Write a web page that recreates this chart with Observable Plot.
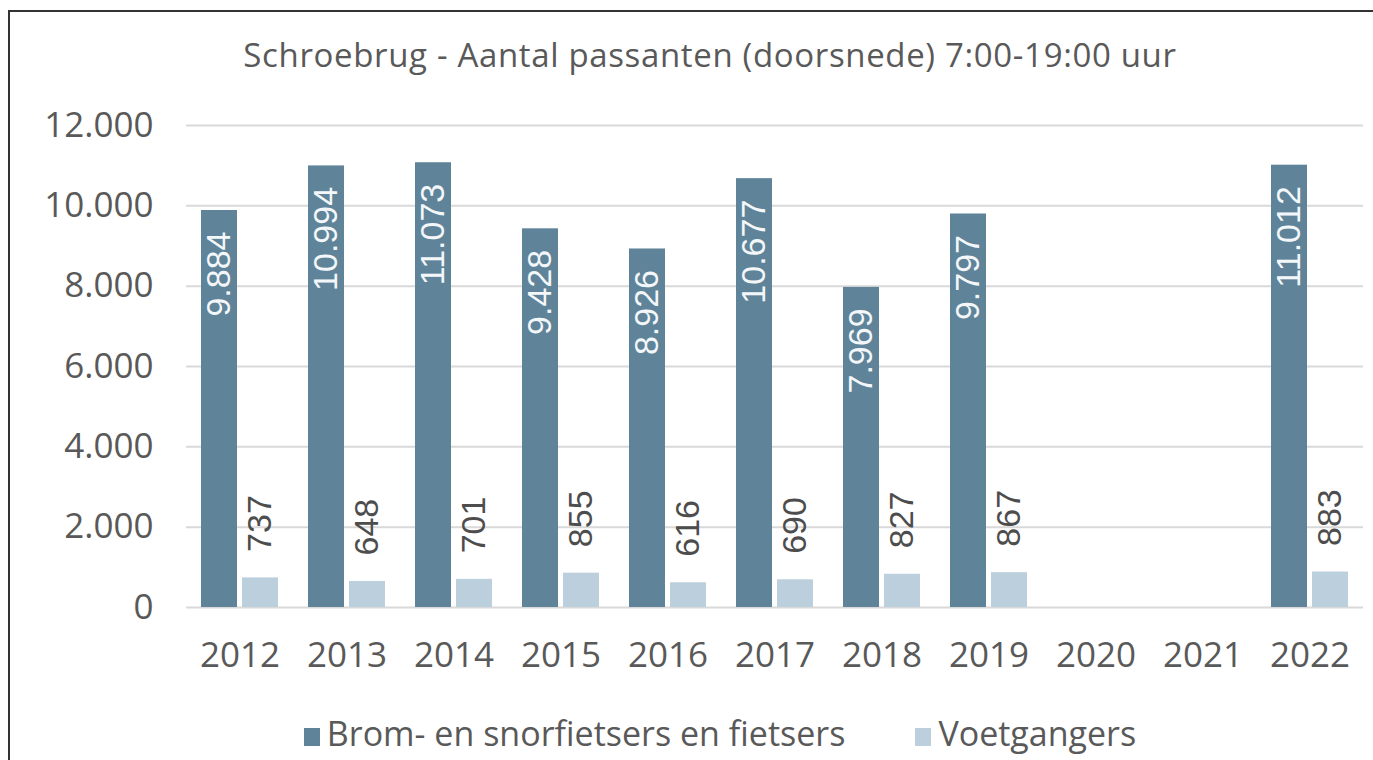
<!DOCTYPE html>
<html>
<head>
<meta charset="utf-8">
<script src="https://cdn.jsdelivr.net/npm/d3@7"></script>
<script src="https://cdn.jsdelivr.net/npm/@observablehq/plot@0.6"></script>
<style>
  html, body { margin: 0; padding: 0; background: #fff; }
  #wrap { position: relative; width: 1373px; height: 760px; overflow: hidden; background: #fff; font-family: 'Open Sans', sans-serif; color: #595959; }
  #frame { position: absolute; left: 8px; top: 10px; width: 1400px; height: 800px; border-left: 2px solid #333; border-top: 2px solid #333; box-sizing: border-box; }
  #title { position: absolute; left: 40px; width: 1340px; top: 38px; line-height: 34px; font-size: 33px; letter-spacing: 0.65px; text-align: center; white-space: nowrap; }
  #chart { position: absolute; left: 0; top: 80px; }
  #legend { position: absolute; left: 0; width: 1440px; top: 716px; line-height: 34px; font-size: 34px; display: flex; justify-content: center; gap: 70px; white-space: nowrap; }
  .item { display: flex; align-items: baseline; }
  .sw { display: inline-block; width: 16px; height: 18px; margin-right: 7px; }
</style>
</head>
<body>
<div id="wrap">
  <div id="frame"></div>
  <div id="title">Schroebrug - Aantal passanten (doorsnede) 7:00-19:00 uur</div>
  <div id="chart"></div>
  <div id="legend"></div>
</div>
<script>
const years = ["2012","2013","2014","2015","2016","2017","2018","2019","2020","2021","2022"];
const fietsers = [9884, 10994, 11073, 9428, 8926, 10677, 7969, 9797, null, null, 11012];
const voetgangers = [737, 648, 701, 855, 616, 690, 827, 867, null, null, 883];
const series = ["Brom- en snorfietsers en fietsers", "Voetgangers"];
const colors = ["#5f8499", "#bccfdc"];
const yTicks = [0, 2000, 4000, 6000, 8000, 10000, 12000];

const nl = d3.formatLocale({decimal: ",", thousands: ".", grouping: [3], currency: ["€", ""]});
const fmt = nl.format(",d");

const data = years.flatMap((y, i) => [
  {year: y, series: series[0], value: fietsers[i]},
  {year: y, series: series[1], value: voetgangers[i]}
]);

const chart = Plot.plot({
  width: 1373,
  height: 620,
  marginTop: 45,
  marginBottom: 93,
  marginLeft: 181,
  marginRight: 5,
  style: {fontFamily: "'Open Sans', sans-serif", fontSize: "34px", color: "#595959", background: "transparent", overflow: "visible"},
  fx: {domain: years, padding: 0, label: null},
  x: {domain: series, paddingInner: 0.12, paddingOuter: 0.35, axis: null},
  y: {domain: [0, 12000], label: null},
  color: {domain: series, range: colors},
  marks: [
    Plot.gridY(yTicks, {stroke: "#d9d9d9", strokeOpacity: 1, strokeWidth: 2}),
    Plot.axisY(yTicks, {tickFormat: fmt, tickSize: 0, tickPadding: 33, fill: "#595959", fontSize: 35}),
    Plot.axisFx({anchor: "bottom", tickSize: 0, tickPadding: 35, fill: "#595959", fontSize: 35, label: null}),
    Plot.barY(data, {fx: "year", x: "series", y1: 0, y2: "value", fill: "series"}),
    Plot.text(data.filter(d => d.series === series[0] && d.value != null), {
      fx: "year", x: "series", y: "value", text: d => fmt(d.value),
      rotate: -90, textAnchor: "end", dy: 21, fill: "#f4f7f9",
      fontSize: 34, fontFamily: "'Liberation Sans', Arial, sans-serif"
    }),
    Plot.text(data.filter(d => d.series === series[1] && d.value != null), {
      fx: "year", x: "series", y: "value", text: d => fmt(d.value),
      rotate: -90, textAnchor: "start", dy: -26, fill: "#4d4d4d",
      fontSize: 34, fontFamily: "'Liberation Sans', Arial, sans-serif"
    })
  ]
});
document.getElementById("chart").appendChild(chart);

const legend = document.getElementById("legend");
series.forEach((s, i) => {
  const item = document.createElement("div");
  item.className = "item";
  const sw = document.createElement("span");
  sw.className = "sw";
  sw.style.background = colors[i];
  const t = document.createElement("span");
  t.textContent = s;
  item.appendChild(sw);
  item.appendChild(t);
  legend.appendChild(item);
});
</script>
</body>
</html>
